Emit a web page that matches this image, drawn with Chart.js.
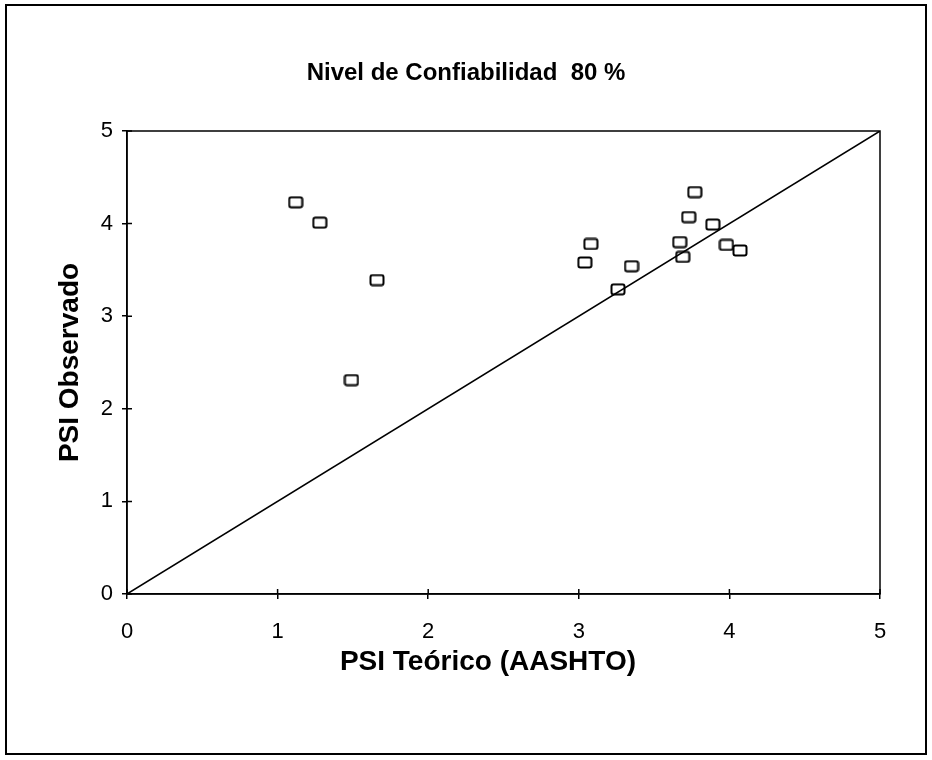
<!DOCTYPE html>
<html>
<head>
<meta charset="utf-8">
<script src="https://cdn.jsdelivr.net/npm/chart.js@4.4.1/dist/chart.umd.min.js"></script>
<style>
    html, body { margin: 0; padding: 0; background: #fff; }
    #wrap { width: 932px; height: 760px; }
</style>
</head>
<body>
<div id="wrap"><canvas id="psiChart" width="932" height="760"></canvas></div>
<script>
// PSI teorico vs observado, nivel de confiabilidad 80 %
const psiTeorico = [1.12, 1.28, 1.66, 1.49, 3.04, 3.08, 3.26, 3.35, 3.67, 3.69, 3.73, 3.77, 3.89, 3.98, 4.07];
const psiObservado = [4.23, 4.01, 3.39, 2.31, 3.58, 3.78, 3.29, 3.54, 3.80, 3.64, 4.07, 4.34, 3.99, 3.77, 3.71];
const lineaIgualdad = [0, 5];
const axisTicks = [0, 1, 2, 3, 4, 5];

const FONT = "'Liberation Sans', Arial, sans-serif";

// small hollow rounded box used as marker
function makeMarker() {
    const c = document.createElement('canvas');
    c.width = 16;
    c.height = 13;
    const ctx = c.getContext('2d');
    ctx.fillStyle = '#fff';
    ctx.strokeStyle = '#000';
    ctx.lineWidth = 2;
    ctx.beginPath();
    ctx.roundRect(1.5, 1.5, 13, 10, 2);
    ctx.fill();
    ctx.stroke();
    return c;
}

// outer frame + box round the plot area + crossing tick marks
const framePlugin = {
    id: 'frame',
    beforeDraw(chart) {
        const ctx = chart.ctx;
        ctx.save();
        ctx.fillStyle = '#fff';
        ctx.fillRect(0, 0, chart.width, chart.height);
        ctx.strokeStyle = '#000';
        ctx.lineWidth = 2;
        ctx.strokeRect(6, 5, 920, 749);
        ctx.restore();
    },
    afterDatasetsDraw(chart) {
        const ctx = chart.ctx;
        const a = chart.chartArea;
        const xs = chart.scales.x;
        const ys = chart.scales.y;
        ctx.save();
        ctx.strokeStyle = '#000';
        ctx.lineWidth = 1.5;
        ctx.strokeRect(a.left, a.top, a.right - a.left, a.bottom - a.top);
        ctx.beginPath();
        axisTicks.forEach(v => {
            const px = xs.getPixelForValue(v);
            ctx.moveTo(px, a.bottom - 5);
            ctx.lineTo(px, a.bottom);
            const py = ys.getPixelForValue(v);
            ctx.moveTo(a.left, py);
            ctx.lineTo(a.left + 5, py);
        });
        ctx.stroke();
        ctx.restore();
    }
};

document.addEventListener('DOMContentLoaded', function() {
    const ctx = document.getElementById('psiChart').getContext('2d');

    const puntos = psiTeorico.map((x, i) => ({ x: x, y: psiObservado[i] }));
    const linea = lineaIgualdad.map(v => ({ x: v, y: v }));

    new Chart(ctx, {
        type: 'scatter',
        data: {
            datasets: [
                {
                    type: 'line',
                    data: linea,
                    borderColor: '#000',
                    borderWidth: 1.5,
                    pointRadius: 0,
                    fill: false
                },
                {
                    data: puntos,
                    pointStyle: makeMarker(),
                    pointRadius: 7
                }
            ]
        },
        options: {
            responsive: false,
            animation: false,
            layout: { padding: { left: 0, right: 0, top: 0, bottom: 66 } },
            plugins: {
                legend: { display: false },
                tooltip: { enabled: false },
                title: {
                    display: true,
                    text: 'Nivel de Confiabilidad  80 %',
                    color: '#000',
                    font: { family: FONT, size: 24, weight: 'bold', lineHeight: 1.2 },
                    padding: { top: 58.6, bottom: 43.6 }
                }
            },
            scales: {
                x: {
                    type: 'linear',
                    min: 0,
                    max: 5,
                    afterBuildTicks: s => { s.ticks = axisTicks.map(v => ({ value: v })); },
                    afterFit: s => { s.height = 100; },
                    grid: { drawOnChartArea: false, color: '#000', tickLength: 5, lineWidth: 1.5 },
                    border: { display: true, color: '#000', width: 1.5 },
                    ticks: { color: '#000', font: { family: FONT, size: 22 }, padding: 20 },
                    title: {
                        display: true,
                        // trailing spaces nudge the title a bit left, as in the original
                        text: 'PSI Teórico (AASHTO)    ',
                        color: '#000',
                        font: { family: FONT, size: 28, weight: 'bold', lineHeight: 1.2 },
                        padding: { top: 0, bottom: 15 }
                    }
                },
                y: {
                    type: 'linear',
                    min: 0,
                    max: 5,
                    afterBuildTicks: s => { s.ticks = axisTicks.map(v => ({ value: v })); },
                    afterFit: s => { s.width = 127; },
                    grid: { drawOnChartArea: false, color: '#000', tickLength: 5, lineWidth: 1.5 },
                    border: { display: true, color: '#000', width: 1.5 },
                    ticks: { color: '#000', font: { family: FONT, size: 22 }, padding: 9 },
                    title: {
                        display: true,
                        text: 'PSI Observado',
                        color: '#000',
                        font: { family: FONT, size: 28, weight: 'bold', lineHeight: 1.2 },
                        padding: { top: 53, bottom: 0 }
                    }
                },
                spacer: {
                    type: 'linear',
                    position: 'right',
                    display: true,
                    afterFit: s => { s.width = 52; },
                    grid: { display: false },
                    border: { display: false },
                    ticks: { display: false }
                }
            }
        },
        plugins: [framePlugin]
    });
});
</script>
</body>
</html>
